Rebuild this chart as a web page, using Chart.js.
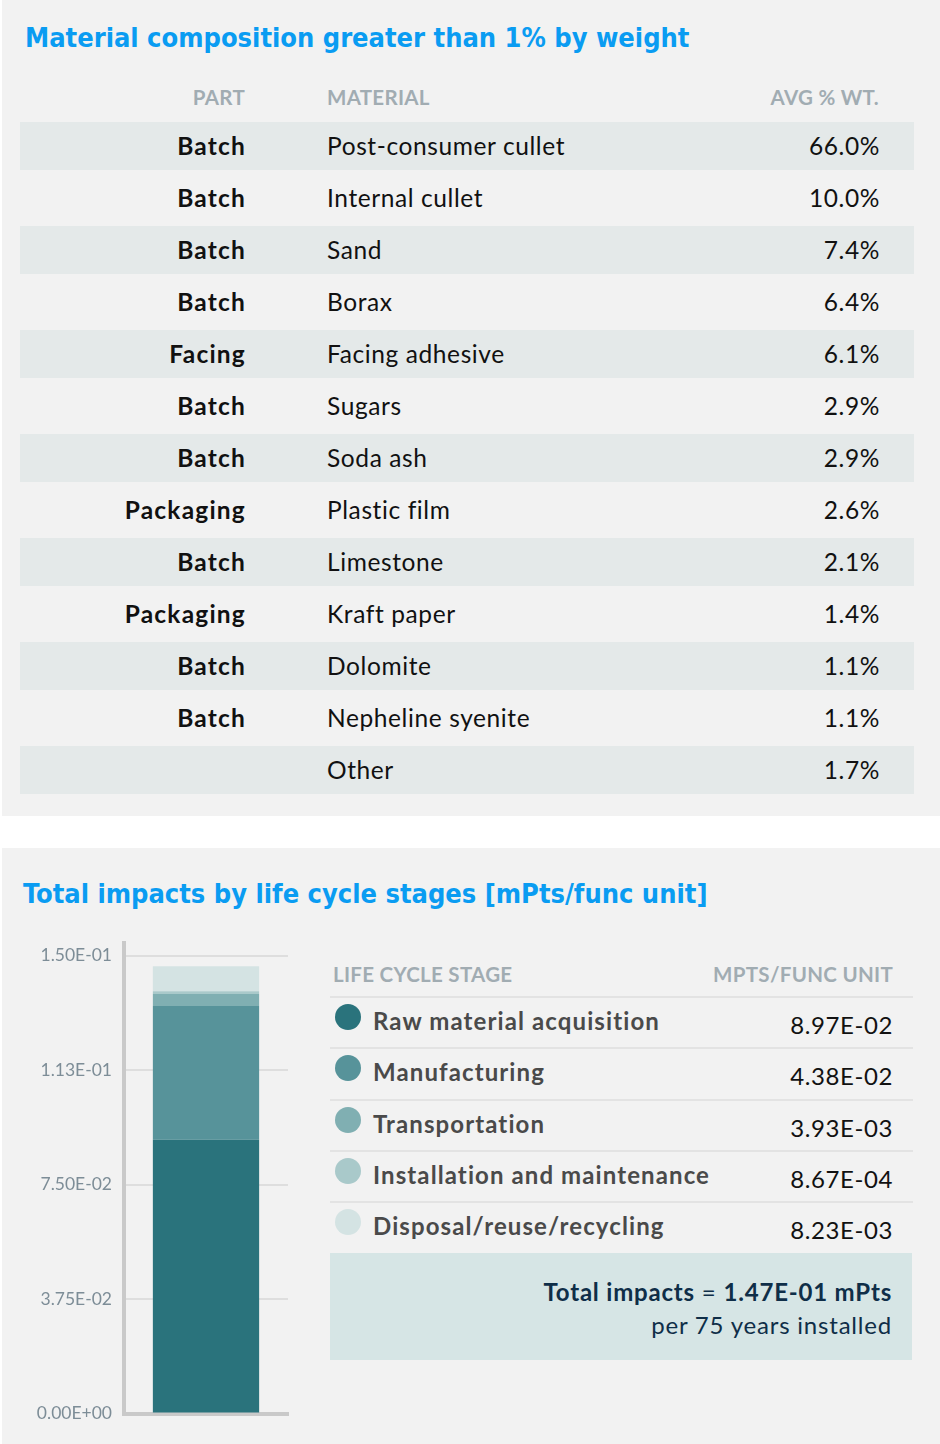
<!DOCTYPE html>
<html lang="en">
<head>
    <meta charset="UTF-8">
    <title>Material composition and life cycle impacts</title>
    <script src="https://cdn.jsdelivr.net/npm/chart.js@4"></script>
</head>
<style>
    body {
        margin: 0;
        width: 940px;
        height: 1444px;
        background: #ffffff;
        font-family: Lato, "Open Sans", sans-serif;
        position: relative;
        overflow: hidden;
    }
    .panel {
        position: absolute;
        left: 2px;
        width: 938px;
        background: #f2f2f2;
    }
    .title {
        position: absolute;
        color: #0a9cf2;
        font-family: "DejaVu Sans Condensed", "DejaVu Sans", sans-serif;
        font-stretch: condensed;
        font-weight: bold;
        font-size: 27px;
        white-space: nowrap;
        line-height: 1;
    }
    .head {
        position: absolute;
        color: #a1acb2;
        font-weight: bold;
        font-size: 20.5px;
        letter-spacing: 0.3px;
        line-height: 1;
        white-space: nowrap;
    }
    .row {
        position: absolute;
        left: 20px;
        width: 894px;
        height: 48px;
        line-height: 48px;
        font-size: 24.5px;
        letter-spacing: 0.6px;
        color: #111;
    }
    .row.shade { background: #e4e9e9; }
    .row span { position: absolute; white-space: nowrap; }
    .row .part { font-weight: bold; letter-spacing: 1.2px; }
    .stage {
        position: absolute;
        left: 330px;
        width: 583px;
        height: 51px;
        border-top: 2px solid #e3e3e3;
        box-sizing: border-box;
    }
    .stage .dot {
        position: absolute;
        left: 5px;
        top: 6px;
        width: 26px;
        height: 26px;
        border-radius: 50%;
    }
    .stage .name {
        position: absolute;
        left: 43px;
        top: 8px;
        font-size: 24px;
        font-weight: bold;
        letter-spacing: 1.1px;
        color: #4a4a4a;
        white-space: nowrap;
    }
    .stage .val {
        position: absolute;
        right: 20px;
        top: 12px;
        font-size: 24px;
        letter-spacing: 0.6px;
        color: #111;
    }
    .total {
        position: absolute;
        left: 330px;
        top: 1253px;
        width: 582px;
        height: 107px;
        background: #d6e5e5;
        color: #0f2e48;
        font-size: 24px;
        letter-spacing: 0.8px;
        text-align: right;
    }
    .chart-box {
        position: absolute;
        left: 0;
        top: 920px;
        width: 290px;
        height: 516px;
    }
</style>
<body>
    <div class="panel" style="top:0;height:816px;"></div>
    <div class="panel" style="top:848px;height:596px;"></div>

    <div class="title" style="left:25px;top:24px;">Material composition greater than 1% by weight</div>
    <div class="head" style="right:695px;top:87px;">PART</div>
    <div class="head" style="left:327px;top:87px;">MATERIAL</div>
    <div class="head" style="right:61px;top:87px;">AVG % WT.</div>
    <div id="compTable"></div>

    <div class="title" style="left:23px;top:880px;">Total impacts by life cycle stages [mPts/func unit]</div>
    <div class="chart-box"><canvas id="impactChart"></canvas></div>
    <div class="head" style="left:333px;top:964px;">LIFE CYCLE STAGE</div>
    <div class="head" style="right:47px;top:964px;">MPTS/FUNC UNIT</div>
    <div id="stageTable"></div>
    <div class="total">
        <div style="position:absolute;right:20px;top:24px;"><b>Total impacts</b> = <b id="totalVal"></b></div>
        <div style="position:absolute;right:20px;top:57px;">per 75 years installed</div>
    </div>

    <script>
        // bảng thành phần vật liệu
        const parts = ["Batch", "Batch", "Batch", "Batch", "Facing", "Batch", "Batch",
                       "Packaging", "Batch", "Packaging", "Batch", "Batch", ""];
        const materials = ["Post-consumer cullet", "Internal cullet", "Sand", "Borax",
                           "Facing adhesive", "Sugars", "Soda ash", "Plastic film",
                           "Limestone", "Kraft paper", "Dolomite", "Nepheline syenite", "Other"];
        const weights = [66.0, 10.0, 7.4, 6.4, 6.1, 2.9, 2.9, 2.6, 2.1, 1.4, 1.1, 1.1, 1.7];

        // các giai đoạn vòng đời
        const stages = ["Raw material acquisition", "Manufacturing", "Transportation",
                        "Installation and maintenance", "Disposal/reuse/recycling"];
        const impacts = [0.0897, 0.0438, 0.00393, 0.000867, 0.00823];
        const stageColors = ["#2a737c", "#57939a", "#80afb2", "#a9c9ca", "#d4e3e3"];
        const totalImpact = 0.147;

        const yTicks = [0, 0.0375, 0.075, 0.1125, 0.15];
        const yTickLabels = ["0.00E+00", "3.75E-02", "7.50E-02", "1.13E-01", "1.50E-01"];

        function sci(v) {
            let s = v.toExponential(2).toUpperCase();
            let m = s.split("E");
            let e = parseInt(m[1], 10);
            return m[0] + "E" + (e < 0 ? "-" : "+") + String(Math.abs(e)).padStart(2, "0");
        }

        const compTable = document.getElementById("compTable");
        materials.forEach((m, i) => {
            const row = document.createElement("div");
            row.className = "row" + (i % 2 === 0 ? " shade" : "");
            row.style.top = (122 + i * 52) + "px";
            row.innerHTML =
                '<span class="part" style="right:668px;">' + parts[i] + '</span>' +
                '<span style="left:307px;">' + m + '</span>' +
                '<span style="right:34px;">' + weights[i].toFixed(1) + '%</span>';
            compTable.appendChild(row);
        });

        const stageTable = document.getElementById("stageTable");
        stages.forEach((s, i) => {
            const row = document.createElement("div");
            row.className = "stage";
            row.style.top = (996 + i * 51.3) + "px";
            row.innerHTML =
                '<div class="dot" style="background:' + stageColors[i] + '"></div>' +
                '<div class="name">' + s + '</div>' +
                '<div class="val">' + sci(impacts[i]) + '</div>';
            stageTable.appendChild(row);
        });
        document.getElementById("totalVal").textContent = sci(totalImpact) + " mPts";

        // Vẽ biểu đồ cột chồng
        const ctx = document.getElementById("impactChart").getContext("2d");
        new Chart(ctx, {
            type: "bar",
            data: {
                labels: ["Total"],
                datasets: stages.map((s, i) => ({
                    label: s,
                    data: [impacts[i]],
                    backgroundColor: stageColors[i],
                    borderWidth: 0,
                    barPercentage: 0.8,
                    categoryPercentage: 0.81
                }))
            },
            options: {
                responsive: true,
                maintainAspectRatio: false,
                animation: false,
                layout: { padding: { top: 0, right: 2, bottom: 9, left: 0 } },
                plugins: {
                    legend: { display: false },
                    tooltip: { enabled: false }
                },
                scales: {
                    x: {
                        stacked: true,
                        ticks: { display: false },
                        grid: { display: false },
                        border: { color: "#c9c9c9", width: 4 },
                        afterFit: s => { s.height = 4; }
                    },
                    y: {
                        stacked: true,
                        min: 0,
                        max: 0.1543,
                        afterBuildTicks: s => { s.ticks = yTicks.map(v => ({ value: v })); },
                        afterFit: s => { s.width = 124; },
                        ticks: {
                            padding: 12,
                            color: "#7d8d97",
                            font: { family: "Lato", size: 17.5 },
                            callback: (v) => yTickLabels[yTicks.indexOf(v)]
                        },
                        grid: { color: "#dedede", lineWidth: 2, drawTicks: false },
                        border: { color: "#c9c9c9", width: 4 }
                    }
                }
            }
        });
    </script>
</body>
</html>
